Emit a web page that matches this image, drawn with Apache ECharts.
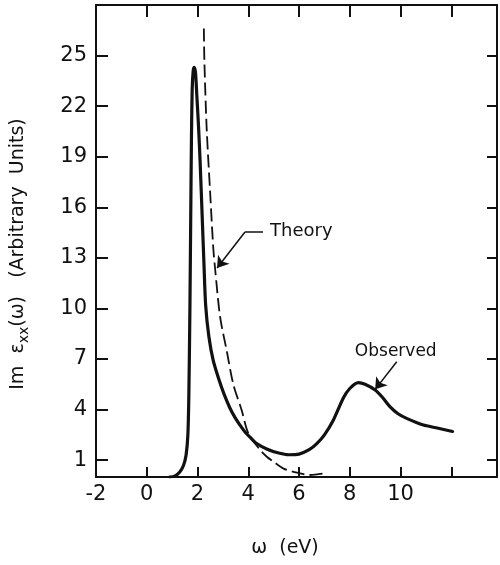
<!DOCTYPE html>
<html>
<head>
<meta charset="utf-8">
<script src="https://cdn.jsdelivr.net/npm/echarts@6/dist/echarts.min.js"></script>
<style>html,body{margin:0;padding:0;background:#fff}#c{width:500px;height:565px}</style>
</head>
<body>
<div id="c"></div>
<script>
const xTickLabels = [-2, 0, 2, 4, 6, 8, 10];
const xTicks = [0, 2, 4, 6, 8, 10, 12];
const yTicks = [1, 4, 7, 10, 13, 16, 19, 22, 25];

const observedX = [0.9, 1.1, 1.3, 1.45, 1.55, 1.62, 1.66, 1.7, 1.73, 1.76, 1.79, 1.83, 1.87, 1.92, 1.97, 2.04, 2.1, 2.2, 2.25, 2.32, 2.45, 2.62, 2.85, 3.05, 3.28, 3.48, 3.68, 3.88, 4.07, 4.3, 4.75, 5.2, 5.6, 6.0, 6.4, 6.7, 7.0, 7.36, 7.75, 8.0, 8.34, 8.6, 9.0, 9.3, 9.58, 9.9, 10.24, 10.9, 11.4, 12.05];
const observedY = [0, 0.05, 0.3, 0.7, 1.3, 2.5, 5, 10, 15, 20, 23, 24.1, 24.3, 24.0, 22.7, 20.8, 18.8, 14.8, 12.8, 10.2, 8.3, 6.9, 5.75, 4.9, 4.08, 3.52, 3.06, 2.66, 2.36, 2.02, 1.65, 1.42, 1.32, 1.36, 1.62, 1.98, 2.5, 3.4, 4.7, 5.25, 5.6, 5.5, 5.16, 4.7, 4.17, 3.75, 3.48, 3.08, 2.92, 2.7];

const theoryX = [2.25, 2.27, 2.36, 2.5, 2.62, 2.69, 2.89, 3.15, 3.41, 3.74, 4.0, 4.47, 4.73, 5.0, 5.39, 6.04, 6.44, 7.03];
const theoryY = [26.6, 24.7, 20.7, 16.8, 13.6, 12.4, 9.5, 7.5, 5.5, 3.96, 2.6, 1.6, 1.2, 0.9, 0.5, 0.22, 0.12, 0.22];

// annotation anchors in data coordinates
const theoryArrow = { tip: [2.77, 12.4], elbow: [3.87, 14.53], end: [4.58, 14.53], text: [4.86, 14.6] };
const observedArrow = { tip: [9.0, 5.2], start: [9.85, 6.84], text: [8.2, 7.45] };

const FONT = 'DejaVu Sans';
const INK = '#111';

const chart = echarts.init(document.getElementById('c'), null, { renderer: 'canvas' });

const axisCommon = {
  type: 'value',
  splitLine: { show: false },
  axisLine: { show: true, onZero: false, lineStyle: { color: INK, width: 2 } }
};

const option = {
  animation: false,
  backgroundColor: '#fff',
  grid: { left: 96, right: 3, top: 5, bottom: 88, containLabel: false },
  xAxis: [
    Object.assign({}, axisCommon, {
      position: 'bottom', min: -2, max: 13.8,
      axisTick: { show: true, inside: true, length: 10, lineStyle: { color: INK, width: 2 }, customValues: xTicks },
      axisLabel: { show: true, margin: 7, color: INK, fontFamily: FONT, fontSize: 21, customValues: xTickLabels }
    }),
    Object.assign({}, axisCommon, {
      position: 'top', min: -2, max: 13.8,
      axisTick: { show: true, inside: true, length: 12, lineStyle: { color: INK, width: 2 }, customValues: xTicks },
      axisLabel: { show: false }
    })
  ],
  yAxis: [
    Object.assign({}, axisCommon, {
      position: 'left', min: 0, max: 28,
      axisTick: { show: true, inside: true, length: 12, lineStyle: { color: INK, width: 2 }, customValues: yTicks },
      axisLabel: { show: true, margin: 9, color: INK, fontFamily: FONT, fontSize: 21, customValues: yTicks }
    }),
    Object.assign({}, axisCommon, {
      position: 'right', min: 0, max: 28,
      axisTick: { show: true, inside: true, length: 10, lineStyle: { color: INK, width: 2 }, customValues: yTicks },
      axisLabel: { show: false }
    })
  ],
  series: [
    {
      name: 'Observed', type: 'line', xAxisIndex: 0, yAxisIndex: 0,
      data: observedX.map((x, i) => [x, observedY[i]]),
      showSymbol: false, smooth: 0.25,
      lineStyle: { color: INK, width: 3.2, join: 'round', cap: 'round' },
      markLine: {
        silent: true, symbol: ['none', 'arrow'], symbolSize: 11,
        label: { show: false },
        lineStyle: { color: INK, width: 1.5, type: 'solid' },
        data: [[{ coord: observedArrow.start }, { coord: observedArrow.tip }]]
      }
    },
    {
      name: 'Theory', type: 'line', xAxisIndex: 0, yAxisIndex: 0,
      data: theoryX.map((x, i) => [x, theoryY[i]]),
      showSymbol: false, smooth: 0.3,
      lineStyle: { color: INK, width: 1.8, type: [13, 5] },
      markLine: {
        silent: true, symbol: ['none', 'arrow'], symbolSize: 11,
        label: { show: false },
        lineStyle: { color: INK, width: 1.5, type: 'solid' },
        data: [
          [{ coord: theoryArrow.elbow }, { coord: theoryArrow.tip }],
          [{ coord: theoryArrow.elbow, symbol: 'none' }, { coord: theoryArrow.end, symbol: 'none' }]
        ]
      }
    }
  ]
};
chart.setOption(option);

const tPos = chart.convertToPixel({ xAxisIndex: 0, yAxisIndex: 0 }, theoryArrow.text);
const oPos = chart.convertToPixel({ xAxisIndex: 0, yAxisIndex: 0 }, observedArrow.text);

chart.setOption({
  graphic: [
    { type: 'text', x: tPos[0], y: tPos[1], style: { text: 'Theory', fill: INK, font: '18px "DejaVu Sans"', textAlign: 'left', textVerticalAlign: 'middle' } },
    { type: 'text', x: oPos[0], y: oPos[1], style: { text: 'Observed', fill: INK, font: '17px "DejaVu Sans"', textAlign: 'left', textVerticalAlign: 'middle' } },
    { type: 'text', x: 285, y: 548, style: { text: 'ω  (eV)', fill: INK, font: '19px "DejaVu Sans"', textAlign: 'center', textVerticalAlign: 'middle' } },
    {
      type: 'text', x: 18, y: 254, rotation: Math.PI / 2,
      style: {
        text: 'Im  ε{sub|xx}(ω)   (Arbitrary  Units)',
        fill: INK, font: '19px "DejaVu Sans"', fontFamily: FONT, fontSize: 19,
        textAlign: 'center', textVerticalAlign: 'middle', lineHeight: 26,
        rich: { sub: { fontSize: 14, fontFamily: FONT, fill: INK, verticalAlign: 'bottom', lineHeight: 14 } }
      }
    }
  ]
});
</script>
</body>
</html>
